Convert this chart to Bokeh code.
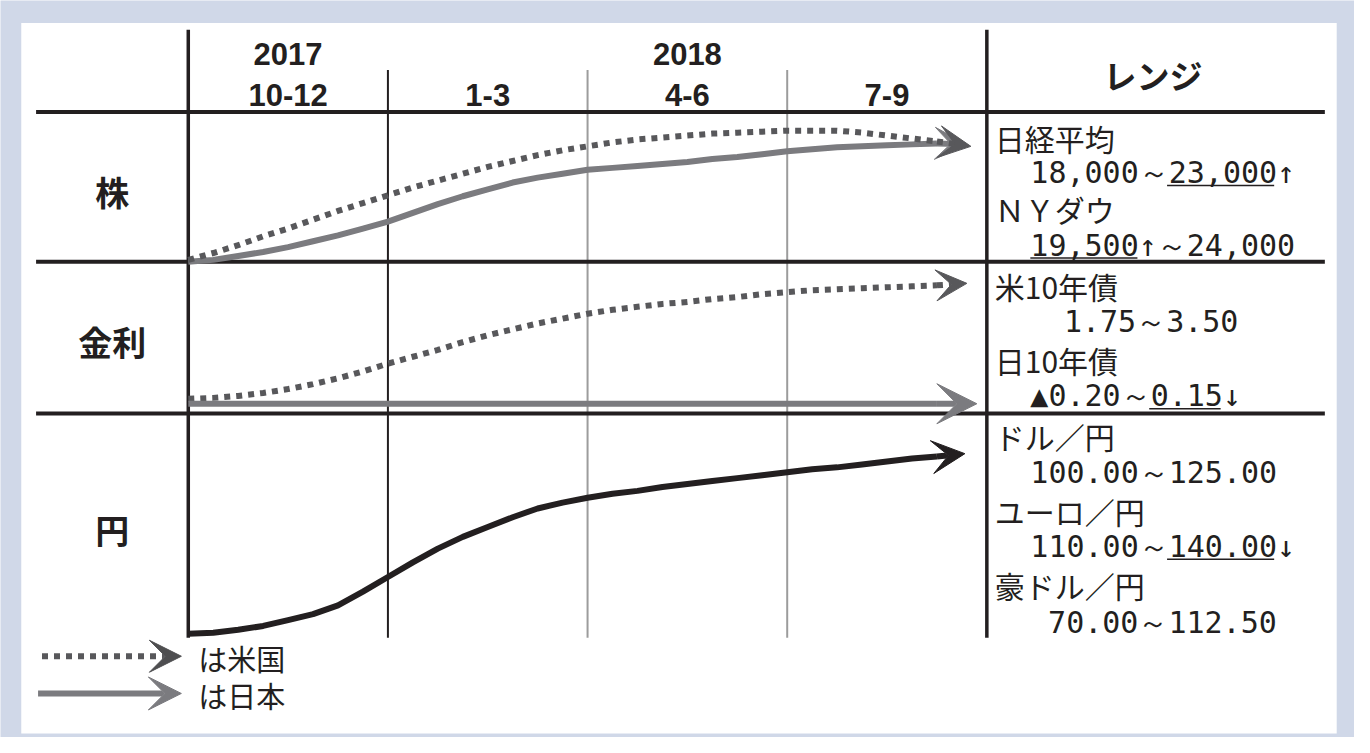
from bokeh.plotting import figure
from bokeh.models import Range1d, Arrow, VeeHead
from bokeh.core.properties import value
from bokeh.embed import file_html
from bokeh.resources import INLINE

# ---------------- data ----------------
years = ["2017", "2018"]
year_q = [0.5, 2.5]
quarters = ["10-12", "1-3", "4-6", "7-9"]
quarter_q = [0.5, 1.5, 2.5, 3.5]
rows = ["株", "金利", "円"]
range_header = "レンジ"

# curve levels: height above the bottom of each row (reference pixels), read every 1/8 quarter
q_grid = [0.0, 0.125, 0.25, 0.375, 0.5, 0.625, 0.75, 0.875, 1.0, 1.125, 1.25, 1.375, 1.5,
          1.625, 1.75, 1.875, 2.0, 2.125, 2.25, 2.375, 2.5, 2.625, 2.75, 2.875, 3.0, 3.125,
          3.25, 3.375, 3.5, 3.625, 3.75]
stock_us = [2, 9, 17, 26, 34, 43, 52, 60, 68, 76, 83, 90, 97, 103, 109, 114, 118, 122, 125,
            127, 129, 131, 132, 133, 134, 134, 134, 132, 129, 126, 123]
stock_us_tip = (3.92, 118)
stock_jp = [0, 2, 6, 10, 15, 21, 27, 34, 41, 50, 59, 67, 74, 81, 86, 90, 94, 96, 98, 100, 102,
            105, 107, 110, 113, 115, 117, 118, 119, 120, 121]
stock_jp_tip = (3.90, 120)
rate_us = [15, 16, 18, 21, 25, 30, 36, 43, 51, 58, 65, 73, 80, 86, 92, 97, 102, 106, 109, 112,
           114, 117, 119, 122, 124, 126, 127, 128, 129, 130, 131]
rate_us_tip = (3.90, 133)
rate_jp = [10, 10, 10, 10, 10, 10, 10, 10, 10, 10, 10, 10, 10, 10, 10, 10, 10, 10, 10, 10, 10,
           10, 10, 10, 10, 10, 10, 10, 10, 10, 10]
rate_jp_tip = (3.95, 10)
yen = [4, 5, 8, 12, 18, 24, 33, 47, 62, 77, 91, 103, 113, 123, 132, 138, 143, 147, 150, 154,
       157, 160, 163, 166, 169, 172, 174, 177, 180, 183, 185]
yen_tip = (3.89, 188)

stock_range = ["日経平均", "18,000～23,000↑", "ＮＹダウ", "19,500↑～24,000"]
rates_range = ["米10年債", "1.75～3.50", "日10年債", "▲0.20～0.15↓"]
yen_range = ["ドル／円", "100.00～125.00", "ユーロ／円", "110.00～140.00↓", "豪ドル／円", "70.00～112.50"]
underlined = [("18,000～23,000↑", "23,000"), ("19,500↑～24,000", "19,500"),
              ("▲0.20～0.15↓", "0.15"), ("110.00～140.00↓", "140.00")]
legend_labels = ["は米国", "は日本"]

# ---------------- layout / style ----------------
BG = "#d0d8e8"
INK = "#231f20"
US_C = "#58585b"
JP_C = "#7b7b7f"
CJK = "Noto Sans CJK JP"
MONO = "DejaVu Sans Mono"
LAT = "Liberation Sans"
RW, RH = 1370, 753          # reference frame, y downward

p = figure(width=1354, height=737, x_range=Range1d(0, RW), y_range=Range1d(RH, 0),
           output_backend="svg", toolbar_location=None, x_axis_type=None, y_axis_type=None,
           min_border=0)
p.background_fill_color = BG
p.border_fill_color = BG
p.outline_line_color = None

QX0, QW = 190.0, 202.0
p.extra_x_ranges = {"q": Range1d(-QX0 / QW, (RW - QX0) / QW)}
row_bottom = {"stock": 267, "rates": 422, "yen": 651}
p.extra_y_ranges = {k: Range1d(b - RH, b) for k, b in row_bottom.items()}

# white panel
p.quad(left=[21], right=[1352], top=[23], bottom=[749], fill_color="white", line_color=None)

# table lines
p.segment(x0=[0, 4], x1=[0, 4], y0=[30, 30], y1=[651, 651], x_range_name="q",
          line_color=INK, line_width=3.5)
p.segment(x0=[1], x1=[1], y0=[71], y1=[651], x_range_name="q", line_color=INK, line_width=2)
p.segment(x0=[2, 3], x1=[2, 3], y0=[71, 71], y1=[651, 651], x_range_name="q",
          line_color="#9c9c9c", line_width=2)
p.segment(x0=[36, 36, 36], x1=[1340, 1340, 1340], y0=[114, 267, 422], y1=[114, 267, 422],
          line_color=INK, line_width=4)

# header texts
p.text(x=year_q, y=[55, 55], text=years, x_range_name="q", text_font=value(LAT),
       text_font_style="bold", text_font_size=value("31px"), text_align="center",
       text_baseline="middle", text_color=INK)
p.text(x=quarter_q, y=[97] * 4, text=quarters, x_range_name="q", text_font=value(LAT),
       text_font_style="bold", text_font_size=value("31px"), text_align="center",
       text_baseline="middle", text_color=INK)
p.text(x=[1166], y=[76], text=[range_header], text_font=value(CJK), text_font_style="bold",
       text_font_size=value("33px"), text_align="center", text_baseline="middle", text_color=INK)
p.text(x=[113, 113, 113], y=[195, 348, 540], text=rows, text_font=value(CJK),
       text_font_style="bold", text_font_size=value("34px"), text_align="center",
       text_baseline="middle", text_color=INK)

# curves
def curve(vals, tip, yname, color, dash, head):
    kw = dict(line_color=color, line_width=6, line_cap="butt", line_join="round")
    if dash:
        kw["line_dash"] = dash
    p.line(x=q_grid, y=vals, x_range_name="q", y_range_name=yname, **kw)
    p.add_layout(Arrow(x_start=q_grid[-1], y_start=vals[-1], x_end=tip[0], y_end=tip[1],
                       x_range_name="q", y_range_name=yname,
                       end=VeeHead(size=head, fill_color=color, line_color=color, line_width=1),
                       **kw))

curve(stock_jp, stock_jp_tip, "stock", JP_C, None, 32)
curve(stock_us, stock_us_tip, "stock", US_C, "6 6", 32)
curve(rate_us, rate_us_tip, "rates", US_C, "6 6", 31)
curve(rate_jp, rate_jp_tip, "rates", JP_C, None, 40)
curve(yen, yen_tip, "yen", INK, None, 33)

# range column texts
MONO_S = 30.0
LX, NX = 1006, 1042
stock_x = [LX, NX, LX, NX]; stock_y = [140, 176, 213, 250]
rates_x = [LX, 1076, LX, NX]; rates_y = [292, 328, 367, 404]
yen_x = [LX, NX, LX, NX, LX, 1060]; yen_y = [445, 482, 522, 558, 597, 635]
line_pos = {}
for lines, xs, ys in [(stock_range, stock_x, stock_y), (rates_range, rates_x, rates_y),
                      (yen_range, yen_x, yen_y)]:
    lab = list(zip(lines, xs, ys))
    cj = lab[0::2]   # headings
    nm = lab[1::2]   # ranges
    p.text(x=[t[1] for t in cj], y=[t[2] for t in cj], text=[t[0] for t in cj],
           text_font=value(CJK), text_font_size=value("30px"), text_align="left",
           text_baseline="middle", text_color=INK)
    p.text(x=[t[1] for t in nm], y=[t[2] for t in nm], text=[t[0] for t in nm],
           text_font=value(MONO), text_font_size=value("%dpx" % MONO_S), text_align="left",
           text_baseline="middle", text_color=INK)
    for l, x, y in lab:
        line_pos[l] = (x, y)

def char_w(c):
    return MONO_S if ord(c) >= 0x3000 else 0.602 * MONO_S

ux0, ux1, uy = [], [], []
for line, sub in underlined:
    x, y = line_pos[line]
    i = line.index(sub)
    start = x + sum(char_w(c) for c in line[:i])
    ux0.append(start)
    ux1.append(start + sum(char_w(c) for c in sub))
    uy.append(y + 13)
p.segment(x0=ux0, x1=ux1, y0=uy, y1=uy, line_color=INK, line_width=1.5)

# legend
p.add_layout(Arrow(x_start=42, y_start=670, x_end=183, y_end=670, line_color=US_C, line_width=6,
                   line_dash="6 6", line_cap="butt",
                   end=VeeHead(size=32, fill_color="#4e4e50", line_color="#4e4e50", line_width=1)))
p.add_layout(Arrow(x_start=38, y_start=708, x_end=183, y_end=708, line_color=JP_C, line_width=6,
                   line_cap="butt",
                   end=VeeHead(size=33, fill_color=JP_C, line_color=JP_C, line_width=1)))
p.text(x=[200, 200], y=[672, 710], text=legend_labels, text_font=value(CJK),
       text_font_size=value("29px"), text_align="left", text_baseline="middle", text_color=INK)

open("out.html", "w").write(file_html(p, INLINE))
